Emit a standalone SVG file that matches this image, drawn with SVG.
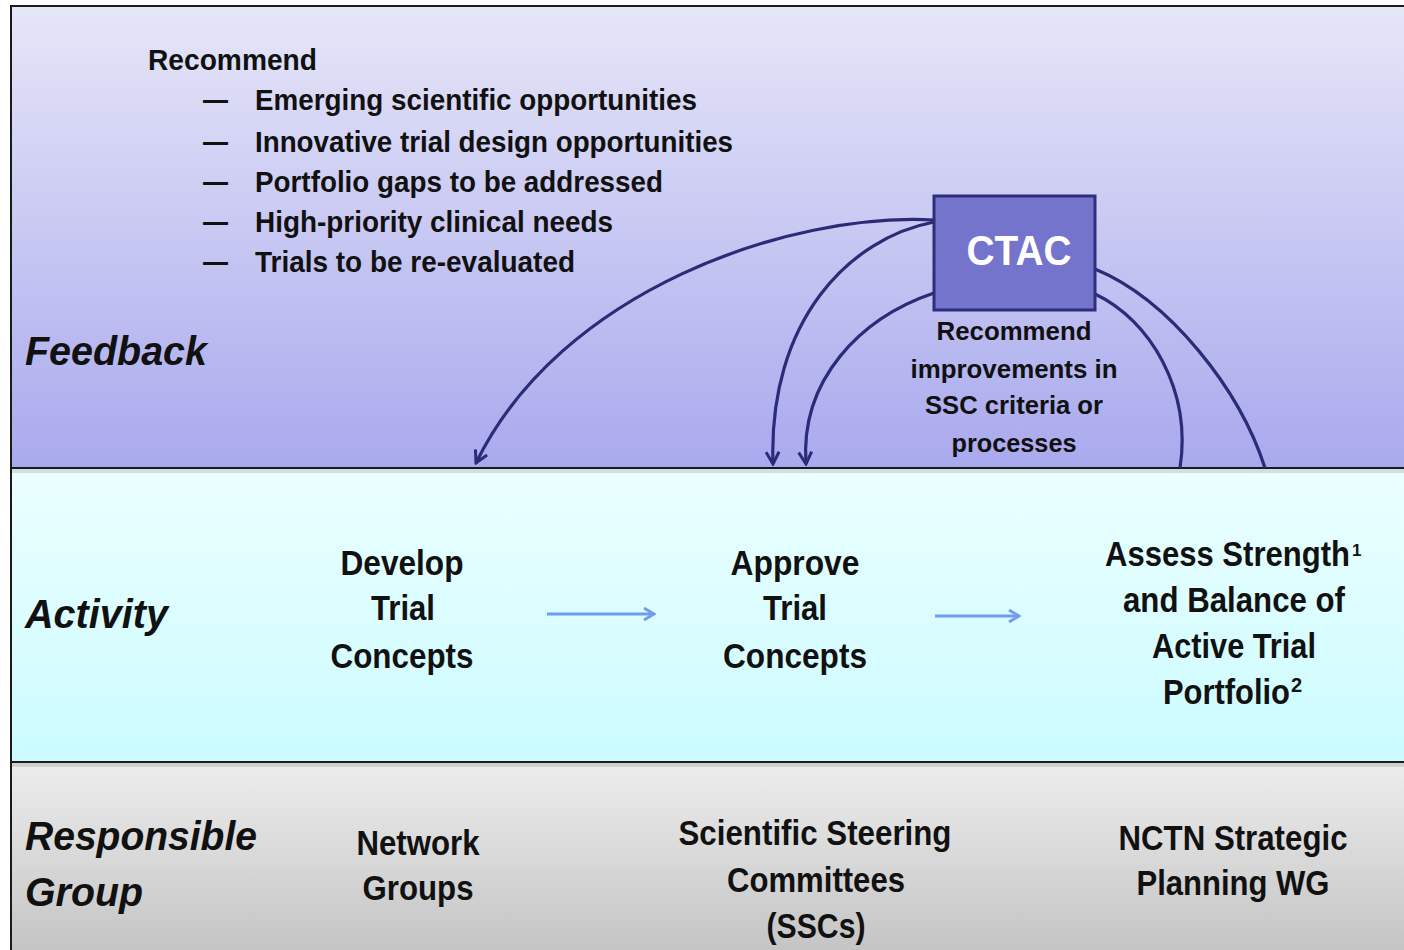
<svg xmlns="http://www.w3.org/2000/svg" width="1404" height="950" viewBox="0 0 1404 950">
<defs>
<linearGradient id="gFeed" x1="0" y1="0" x2="0" y2="1">
<stop offset="0" stop-color="#e6e6f8"/>
<stop offset="1" stop-color="#a9a9ee"/>
</linearGradient>
<linearGradient id="gAct" x1="0" y1="0" x2="0" y2="1">
<stop offset="0" stop-color="#ecffff"/>
<stop offset="1" stop-color="#cbfbff"/>
</linearGradient>
<linearGradient id="gResp" x1="0" y1="0" x2="0" y2="1">
<stop offset="0" stop-color="#ededed"/>
<stop offset="1" stop-color="#c3c3c3"/>
</linearGradient>
<marker id="vArrow" viewBox="0 0 16 16" refX="14" refY="8" markerWidth="16" markerHeight="16" markerUnits="userSpaceOnUse" orient="auto">
<path d="M2,1.5 L14,8 L2,14.5" fill="none" stroke="#2b2b78" stroke-width="3"/>
</marker>
<marker id="bArrow" viewBox="0 0 14 14" refX="12" refY="7" markerWidth="14" markerHeight="14" markerUnits="userSpaceOnUse" orient="auto">
<path d="M2,1 L12,7 L2,13" fill="none" stroke="#6f9cf0" stroke-width="2.8"/>
</marker>
</defs>
<style>
.t{font-family:"Liberation Sans",Arial,sans-serif;font-weight:bold;fill:#111;}
.lbl{font-family:"Liberation Sans",Arial,sans-serif;font-weight:bold;font-style:italic;fill:#111;}
.c{text-anchor:middle;}
.sep{stroke:#1a1a1a;stroke-width:2;}
.fb{fill:none;stroke:#2b2b78;stroke-width:3.2;}
.flow{fill:none;stroke:#6f9cf0;stroke-width:3;}
</style>
<rect x="0" y="0" width="1404" height="950" fill="#ffffff"/>
<g id="bands">
<rect x="11" y="6" width="1400" height="462" fill="url(#gFeed)"/>
<rect x="11" y="468" width="1400" height="294" fill="url(#gAct)"/>
<rect x="11" y="762" width="1400" height="195" fill="url(#gResp)"/>
<rect x="11" y="6" width="1400" height="960" fill="none" stroke="#1a1a1a" stroke-width="2"/>
<rect x="11" y="469" width="1400" height="4" fill="#000" opacity="0.12"/>
<rect x="11" y="763" width="1400" height="4" fill="#000" opacity="0.12"/>
<line class="sep" x1="11" y1="468" x2="1404" y2="468"/>
<line class="sep" x1="11" y1="762" x2="1404" y2="762"/>
</g>
<g id="row-labels">
<text class="lbl" x="25" y="365" font-size="40" textLength="182" lengthAdjust="spacingAndGlyphs">Feedback</text>
<text class="lbl" x="25" y="628" font-size="40" textLength="143" lengthAdjust="spacingAndGlyphs">Activity</text>
<text class="lbl" x="25" y="850" font-size="40" textLength="232" lengthAdjust="spacingAndGlyphs">Responsible</text>
<text class="lbl" x="25" y="906" font-size="40" textLength="118" lengthAdjust="spacingAndGlyphs">Group</text>
</g>
<g id="recommend-list" class="t" font-size="29">
<text x="148" y="70" textLength="169" lengthAdjust="spacingAndGlyphs">Recommend</text>
<text x="203" y="110" textLength="25" lengthAdjust="spacingAndGlyphs">—</text><text x="255" y="110" textLength="442" lengthAdjust="spacingAndGlyphs">Emerging scientific opportunities</text>
<text x="203" y="152" textLength="25" lengthAdjust="spacingAndGlyphs">—</text><text x="255" y="152" textLength="478" lengthAdjust="spacingAndGlyphs">Innovative trial design opportunities</text>
<text x="203" y="192" textLength="25" lengthAdjust="spacingAndGlyphs">—</text><text x="255" y="192" textLength="408" lengthAdjust="spacingAndGlyphs">Portfolio gaps to be addressed</text>
<text x="203" y="232" textLength="25" lengthAdjust="spacingAndGlyphs">—</text><text x="255" y="232" textLength="358" lengthAdjust="spacingAndGlyphs">High-priority clinical needs</text>
<text x="203" y="272" textLength="25" lengthAdjust="spacingAndGlyphs">—</text><text x="255" y="272" textLength="320" lengthAdjust="spacingAndGlyphs">Trials to be re-evaluated</text>
</g>
<g id="connectors">
<path class="fb" d="M934,220 C790,212 560,290 476,463" marker-end="url(#vArrow)"/>
<path class="fb" d="M934,222 C850,238 768,320 773,464" marker-end="url(#vArrow)"/>
<path class="fb" d="M934,293 C860,318 800,380 806,464" marker-end="url(#vArrow)"/>
<path class="fb" d="M1095,294 C1150,320 1192,390 1180,468"/>
<path class="fb" d="M1095,269 C1170,300 1240,390 1265,468"/>
<line class="flow" x1="547" y1="614" x2="654" y2="614" marker-end="url(#bArrow)"/>
<line class="flow" x1="935" y1="616" x2="1019" y2="616" marker-end="url(#bArrow)"/>
</g>
<g id="ctac">
<rect x="934" y="196" width="161" height="114" fill="#7474cc" stroke="#2e2e7a" stroke-width="3"/>
<text class="t c" x="1019" y="265" font-size="42" style="fill:#ffffff" textLength="105" lengthAdjust="spacingAndGlyphs">CTAC</text>
</g>
<g id="ctac-note" class="t c" font-size="26">
<text x="1014" y="340" textLength="155" lengthAdjust="spacingAndGlyphs">Recommend</text>
<text x="1014" y="378" textLength="207" lengthAdjust="spacingAndGlyphs">improvements in</text>
<text x="1014" y="414" textLength="178" lengthAdjust="spacingAndGlyphs">SSC criteria or</text>
<text x="1014" y="452" textLength="125" lengthAdjust="spacingAndGlyphs">processes</text>
</g>
<g id="develop" class="t c" font-size="35">
<text x="402" y="575" textLength="123" lengthAdjust="spacingAndGlyphs">Develop</text>
<text x="403" y="620" textLength="64" lengthAdjust="spacingAndGlyphs">Trial</text>
<text x="402" y="668" textLength="143" lengthAdjust="spacingAndGlyphs">Concepts</text>
</g>
<g id="approve" class="t c" font-size="35">
<text x="795" y="575" textLength="129" lengthAdjust="spacingAndGlyphs">Approve</text>
<text x="795" y="620" textLength="64" lengthAdjust="spacingAndGlyphs">Trial</text>
<text x="795" y="668" textLength="144" lengthAdjust="spacingAndGlyphs">Concepts</text>
</g>
<g id="assess" class="t" font-size="35">
<text x="1105" y="566"><tspan textLength="245" lengthAdjust="spacingAndGlyphs">Assess Strength</tspan><tspan font-size="17" dx="2" dy="-10">1</tspan></text>
<text class="c" x="1234" y="612" textLength="222" lengthAdjust="spacingAndGlyphs">and Balance of</text>
<text class="c" x="1234" y="658" textLength="164" lengthAdjust="spacingAndGlyphs">Active Trial</text>
<text x="1163" y="704"><tspan textLength="127" lengthAdjust="spacingAndGlyphs">Portfolio</tspan><tspan font-size="20" dx="1" dy="-12">2</tspan></text>
</g>
<g id="network" class="t c" font-size="35">
<text x="418" y="855" textLength="123" lengthAdjust="spacingAndGlyphs">Network</text>
<text x="418" y="900" textLength="111" lengthAdjust="spacingAndGlyphs">Groups</text>
</g>
<g id="ssc" class="t c" font-size="35">
<text x="815" y="845" textLength="273" lengthAdjust="spacingAndGlyphs">Scientific Steering</text>
<text x="816" y="892" textLength="178" lengthAdjust="spacingAndGlyphs">Committees</text>
<text x="816" y="938" textLength="99" lengthAdjust="spacingAndGlyphs">(SSCs)</text>
</g>
<g id="nctn" class="t c" font-size="35">
<text x="1233" y="850" textLength="229" lengthAdjust="spacingAndGlyphs">NCTN Strategic</text>
<text x="1233" y="895" textLength="193" lengthAdjust="spacingAndGlyphs">Planning WG</text>
</g>
</svg>
